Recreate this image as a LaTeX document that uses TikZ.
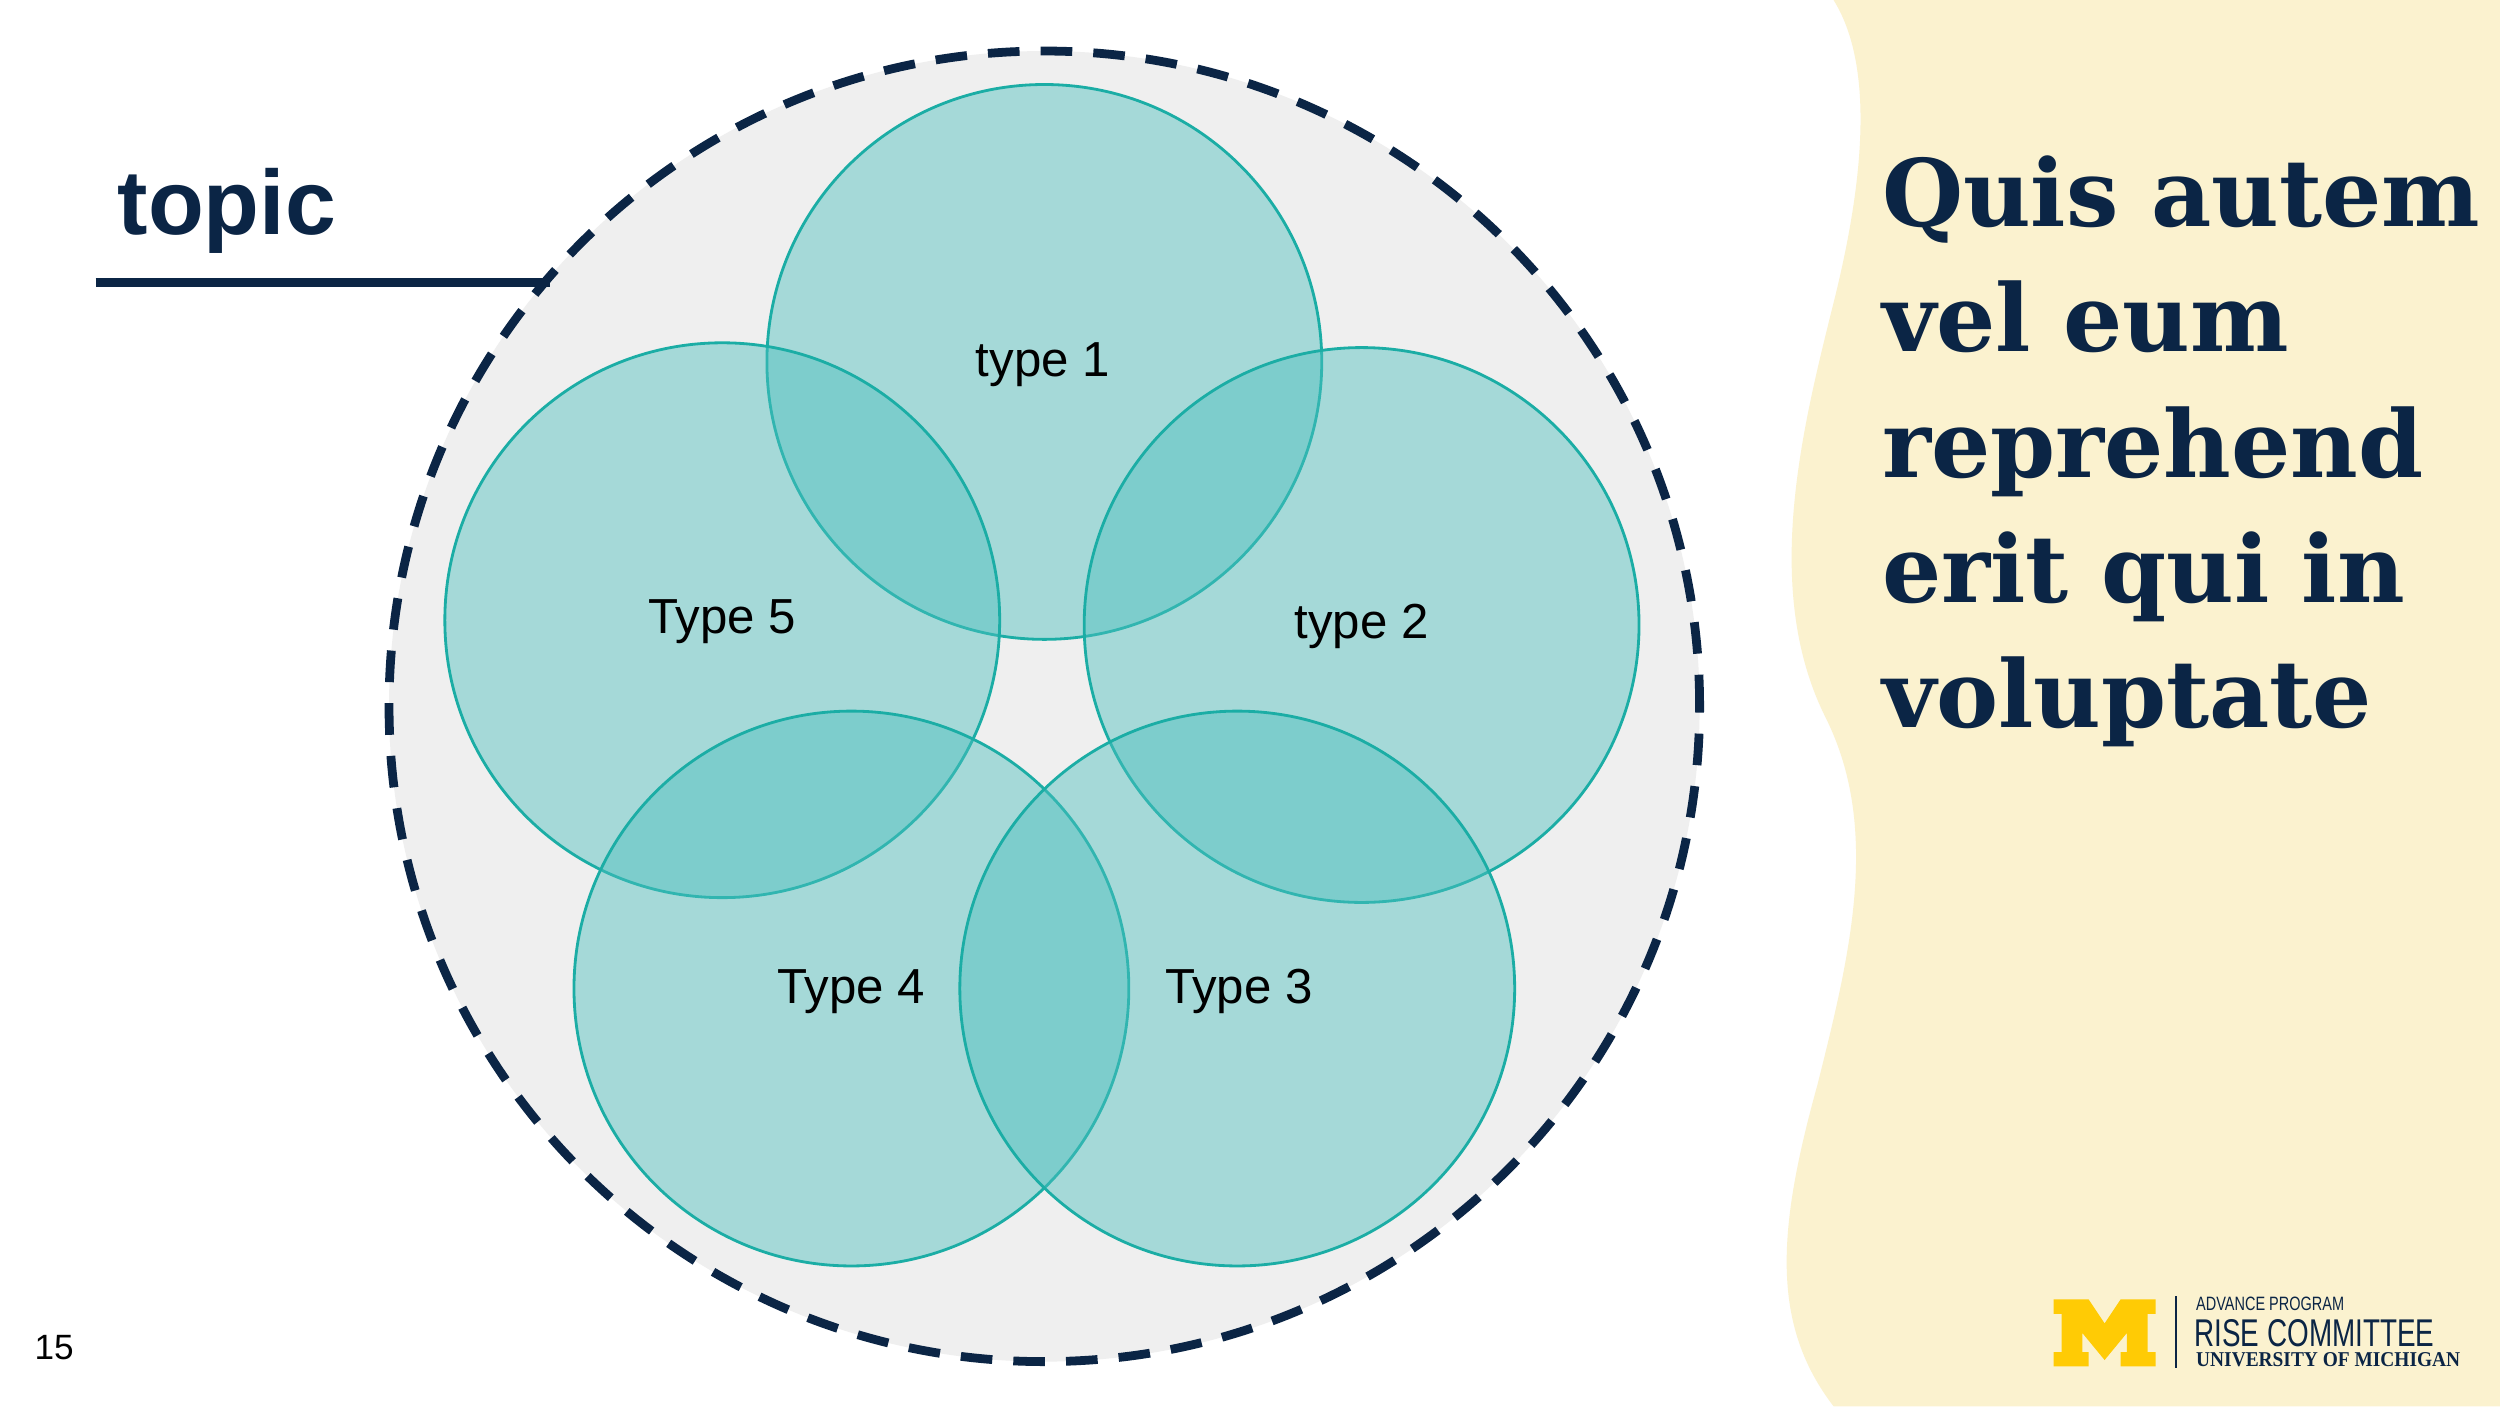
\documentclass[tikz,border=0pt]{standalone}
\usepackage{fontspec}
\setmainfont{Liberation Sans}
\newfontfamily\slab{DejaVu Serif}
\newfontfamily\serifb{Liberation Serif}
\definecolor{navy}{HTML}{0B2545}
\definecolor{cream}{HTML}{FBF2CF}
\definecolor{bgray}{HTML}{EFEFEF}
\definecolor{tealf}{HTML}{4DC0BE}
\definecolor{teals}{HTML}{1BADA5}
\definecolor{myellow}{HTML}{FFCB05}
\begin{document}
\begin{tikzpicture}[x=0.01594cm,y=-0.01594cm,
  venn/.style={circle,minimum size=348*0.01594cm,inner sep=0,fill=tealf,fill opacity=0.45,draw=teals,draw opacity=1,line width=0.8pt},
  lbl/.style={font=\fontsize{14}{16}\selectfont,text=black}]
\useasboundingbox (0,0) rectangle (1568,882);
\fill[white] (0,0) rectangle (1568,882);
\fill[cream] (1150,0) .. controls (1175,40) and (1170,110) .. (1150,190)
  .. controls (1130,270) and (1105,370) .. (1145,450)
  .. controls (1180,520) and (1160,600) .. (1140,680)
  .. controls (1115,770) and (1110,830) .. (1150,882) -- (1568,882) -- (1568,0) -- cycle;
\node[circle,minimum size=822*0.01594cm,inner sep=0,fill=bgray,draw=navy,line width=2.5pt,dash pattern=on 9pt off 6pt] (outer) at (655,443) {};
\node[venn] (c1) at (655,227) {};
\node[venn] (c5) at (453,389) {};
\node[venn] (c2) at (854,392) {};
\node[venn] (c4) at (534,620) {};
\node[venn] (c3) at (776,620) {};
\node[lbl] (t1) at (654,229) {type 1};
\node[lbl] (t5) at (453,390) {Type 5};
\node[lbl] (t2) at (854,393) {type 2};
\node[lbl] (t4) at (534,622) {Type 4};
\node[lbl] (t3) at (777,622) {Type 3};
\node[font=\bfseries\fontsize{26}{28}\selectfont,text=navy,anchor=west] (topic) at (66,132) {topic};
\coordinate (ls) at (60,177);
\coordinate (le) at (345,177);
\draw[navy,line width=2.6pt] (ls) -- (le);
\node[anchor=north west,align=left,text=navy,font=\slab\bfseries\fontsize{26.5}{35.7}\selectfont,inner sep=0] (quote) at (1180,97) {Quis autem\\vel eum\\reprehend\\erit qui in\\voluptate};
\node[font=\fontsize{10}{12}\selectfont] (pg) at (34,845) {15};
\fill[myellow] (1288,815) -- (1310,815) -- (1320,830) -- (1330,815) -- (1352,815) -- (1352,824) -- (1347,824) -- (1347,848) -- (1352,848) -- (1352,857) -- (1330,857) -- (1330,848) -- (1334,848) -- (1334,836) -- (1320,853) -- (1306,836) -- (1306,848) -- (1310,848) -- (1310,857) -- (1288,857) -- (1288,848) -- (1293,848) -- (1293,824) -- (1288,824) -- cycle;
\coordinate (v1) at (1365,813);
\coordinate (v2) at (1365,858);
\draw[navy,line width=0.6pt] (v1) -- (v2);
\node[anchor=west,inner sep=0,text=navy,font=\addfontfeature{FakeStretch=0.75}\fontsize{5.5}{6}\selectfont] (adv) at (1377,818) {ADVANCE PROGRAM};
\node[anchor=west,inner sep=0,text=navy,font=\addfontfeature{FakeStretch=0.72}\fontsize{11}{12}\selectfont] (rise) at (1376,836) {RISE COMMITTEE};
\node[anchor=west,inner sep=0,text=navy,font=\serifb\bfseries\addfontfeature{FakeStretch=0.92}\fontsize{6}{7}\selectfont] (um) at (1377,853) {UNIVERSITY OF MICHIGAN};
\end{tikzpicture}
\end{document}
